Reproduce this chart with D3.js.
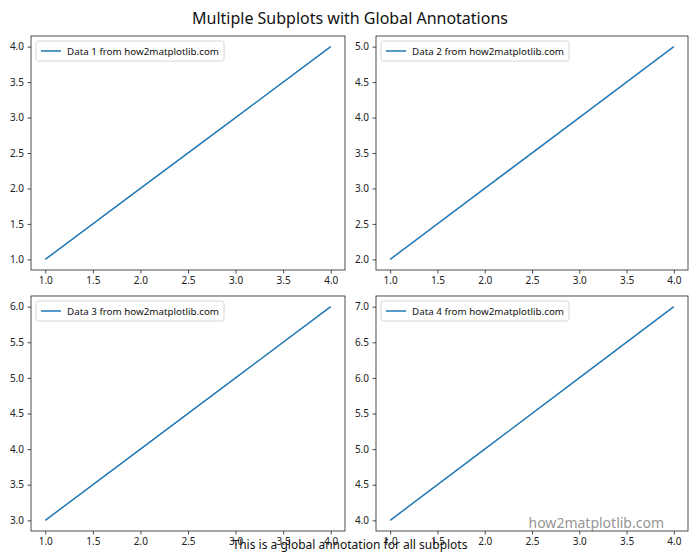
<!DOCTYPE html>
<html><head><meta charset="utf-8">
<script src="https://cdn.jsdelivr.net/npm/d3@7"></script>
<style>body{margin:0;background:#fff}svg{font-family:"Noto Sans","Open Sans",sans-serif}</style>
</head><body><svg id="c" width="700" height="560"></svg>
<script>
const xValues = [1, 2, 3, 4];
const series1 = [1, 2, 3, 4];
const series2 = [2, 3, 4, 5];
const series3 = [3, 4, 5, 6];
const series4 = [4, 5, 6, 7];
const seriesList = [series1, series2, series3, series4];
const labels = ["Data 1 from how2matplotlib.com","Data 2 from how2matplotlib.com","Data 3 from how2matplotlib.com","Data 4 from how2matplotlib.com"];
const xTicks = [1.0,1.5,2.0,2.5,3.0,3.5,4.0];

const svg = d3.select("#c");
const panels = [
  {l:31,r:345,t:36,b:270},
  {l:376,r:688,t:36,b:270},
  {l:31,r:345,t:296,b:531},
  {l:376,r:688,t:296,b:531}
];
const fmt = d3.format(".1f");
seriesList.forEach((ys,i)=>{
  const p = panels[i];
  const xd = [d3.min(xValues), d3.max(xValues)], xs = (xd[1]-xd[0])*0.05;
  const yd = [d3.min(ys), d3.max(ys)], yspan=(yd[1]-yd[0])*0.05;
  const x = d3.scaleLinear().domain([xd[0]-xs, xd[1]+xs]).range([p.l,p.r]);
  const y = d3.scaleLinear().domain([yd[0]-yspan, yd[1]+yspan]).range([p.b,p.t]);
  const yTicks = d3.range(yd[0], yd[1]+0.001, 0.5);
  const g = svg.append("g");
  const ax = g.append("g").attr("transform",`translate(0,${p.b})`).call(d3.axisBottom(x).tickValues(xTicks).tickFormat(fmt).tickSize(3.5).tickPadding(3.5));
  const ay = g.append("g").attr("transform",`translate(${p.l},0)`).call(d3.axisLeft(y).tickValues(yTicks).tickFormat(fmt).tickSize(3.5).tickPadding(3.5));
  [ax,ay].forEach(a=>{a.select(".domain").remove();a.selectAll("text").attr("font-size",10).attr("fill","#222").attr("font-family","Noto Sans");a.selectAll("line").attr("stroke","#222").attr("stroke-width",0.8);});
  g.append("path").datum(xValues.map((v,j)=>[v,ys[j]]))
    .attr("d", d3.line().x(d=>x(d[0])).y(d=>y(d[1])))
    .attr("fill","none").attr("stroke","#1f77b4").attr("stroke-width",1.5);
  g.append("rect").attr("x",p.l).attr("y",p.t).attr("width",p.r-p.l).attr("height",p.b-p.t)
    .attr("fill","none").attr("stroke","#222").attr("stroke-width",0.8);
  // legend
  const lg = g.append("g");
  const txt = lg.append("text").attr("x",p.l+36).attr("y",p.t+19).attr("font-size",9.8).attr("fill","#111").text(labels[i]);
  const w = txt.node().getComputedTextLength();
  lg.insert("rect","text").attr("x",p.l+5).attr("y",p.t+5).attr("width",w+36).attr("height",20).attr("rx",2.5)
    .attr("fill","#fff").attr("fill-opacity",0.8).attr("stroke","#ccc").attr("stroke-width",0.8);
  lg.append("line").attr("x1",p.l+10).attr("x2",p.l+30).attr("y1",p.t+15).attr("y2",p.t+15).attr("stroke","#1f77b4").attr("stroke-width",1.5);
});
svg.append("text").attr("x",350).attr("y",24).attr("text-anchor","middle").attr("font-size",16).attr("fill","#111").text("Multiple Subplots with Global Annotations");
svg.append("text").attr("x",664).attr("y",528).attr("text-anchor","end").attr("font-size",14).attr("fill","#888").attr("fill-opacity",0.9).text("how2matplotlib.com");
svg.append("text").attr("x",350).attr("y",549).attr("text-anchor","middle").attr("font-size",12).attr("fill","#111").text("This is a global annotation for all subplots");
</script></body></html>
